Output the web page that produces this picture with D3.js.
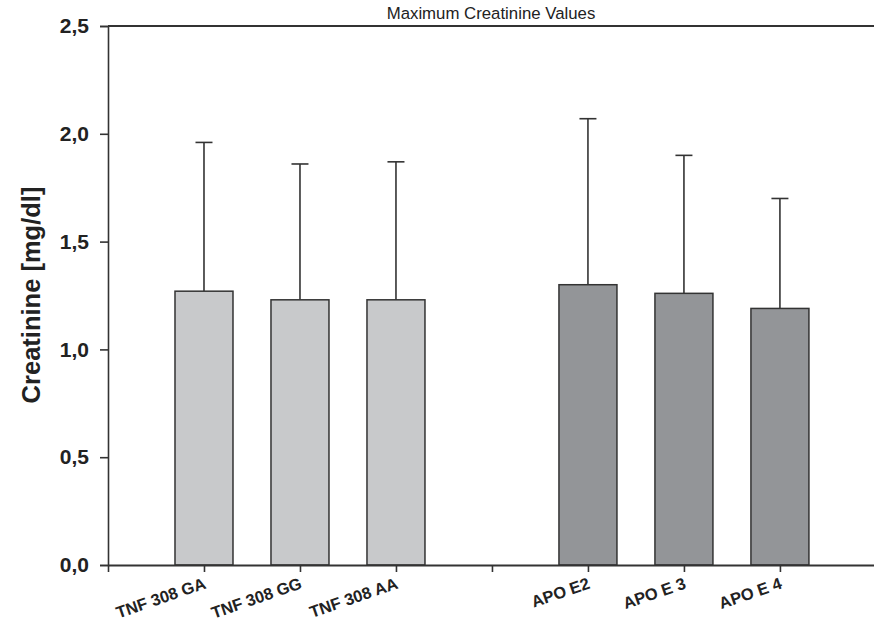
<!DOCTYPE html>
<html><head><meta charset="utf-8">
<script src="https://cdn.jsdelivr.net/npm/d3@7"></script>
<style>body{margin:0;background:#fff}svg{display:block}</style>
</head><body>
<svg id="c" width="874" height="623"></svg>
<script>
const categories = ["TNF 308 GA","TNF 308 GG","TNF 308 AA","APO E2","APO E 3","APO E 4"];
const slots = [1,2,3,5,6,7];
const groups = ["TNF","TNF","TNF","APO","APO","APO"];
const means = [1.27,1.23,1.23,1.30,1.26,1.19];
const errTops = [1.96,1.86,1.87,2.07,1.90,1.70];
const yTicks = [0,0.5,1.0,1.5,2.0,2.5];
const yTickLabels = ["0,0","0,5","1,0","1,5","2,0","2,5"];
const xTickSlots = [0,1,2,3,4,5,6,7];

const FONT = "Liberation Sans, Arial, Helvetica, sans-serif";
const svg = d3.select("#c");
const x = d3.scaleLinear().domain([0, 7.98]).range([108, 874]);
const y = d3.scaleLinear().domain([0, 2.5]).range([565, 26]);
const col = {TNF:"#c8c9cb", APO:"#939598"};
const ink = "#333";
const bw = 58;

// title
svg.append("text").attr("x",491).attr("y",19).attr("text-anchor","middle")
  .attr("font-family",FONT).attr("font-size",16.8).attr("fill","#222")
  .text("Maximum Creatinine Values");

// y label
svg.append("text").attr("transform","translate(40,295) rotate(-90)").attr("text-anchor","middle")
  .attr("font-family",FONT).attr("font-size",25.5).attr("font-weight","bold").attr("fill","#222")
  .text("Creatinine [mg/dl]");

// error bars
const eb = svg.append("g").attr("stroke",ink).attr("stroke-width",1.6);
categories.forEach((c,i)=>{
  const cx = x(slots[i]);
  eb.append("line").attr("x1",cx).attr("x2",cx).attr("y1",y(means[i])).attr("y2",y(errTops[i]));
  eb.append("line").attr("x1",cx-8.5).attr("x2",cx+8.5).attr("y1",y(errTops[i])).attr("y2",y(errTops[i]));
});

// bars
svg.append("g").selectAll("rect").data(categories).join("rect")
  .attr("x",(d,i)=>x(slots[i])-bw/2).attr("width",bw)
  .attr("y",(d,i)=>y(means[i])).attr("height",(d,i)=>y(0)-y(means[i]))
  .attr("fill",(d,i)=>col[groups[i]]).attr("stroke",ink).attr("stroke-width",1.5);

// y axis
const ya = svg.append("g").attr("transform","translate(108,0)")
  .call(d3.axisLeft(y).tickValues(yTicks).tickSize(8).tickPadding(11).tickFormat((d,i)=>yTickLabels[i]));
ya.select(".domain").attr("stroke",ink).attr("stroke-width",1.6);
ya.selectAll(".tick line").attr("stroke",ink).attr("stroke-width",1.6);
ya.selectAll(".tick text").attr("font-family",FONT).attr("font-size",21).attr("font-weight","bold").attr("fill","#222");

// top line
svg.append("line").attr("x1",108).attr("x2",874).attr("y1",y(2.5)).attr("y2",y(2.5)).attr("stroke",ink).attr("stroke-width",1.8);

// x axis
const xa = svg.append("g").attr("transform",`translate(0,${y(0)})`)
  .call(d3.axisBottom(x).tickValues(xTickSlots).tickSize(7).tickSizeOuter(0).tickFormat(""));
xa.select(".domain").attr("stroke",ink).attr("stroke-width",2.2);
xa.selectAll(".tick line").attr("stroke",ink).attr("stroke-width",1.6);

// x labels
svg.append("g").selectAll("text").data(categories).join("text")
  .attr("transform",(d,i)=>`translate(${x(slots[i])+3},${y(0)+23}) rotate(-19)`)
  .attr("text-anchor","end")
  .attr("font-family",FONT).attr("font-size",16.5).attr("font-weight","bold").attr("fill","#222")
  .text(d=>d);
</script>
</body></html>
